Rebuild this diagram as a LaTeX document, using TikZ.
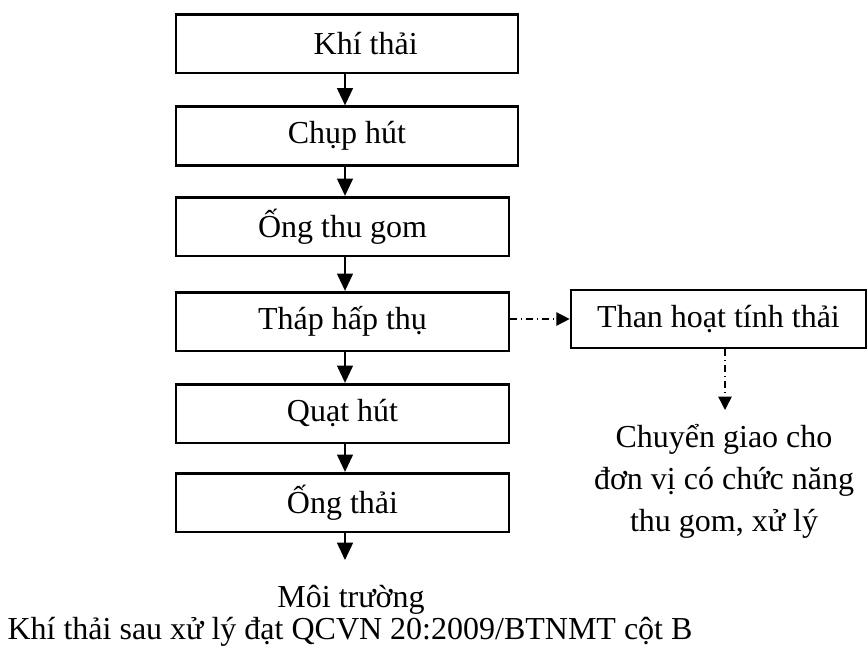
\documentclass[tikz,border=0pt]{standalone}
\usepackage{fontspec}
\setmainfont{Liberation Serif}
\usetikzlibrary{arrows.meta,positioning,calc}

\begin{document}
\begin{tikzpicture}[x=0.75pt,y=-0.75pt,>={Triangle[width=12pt,length=13pt]},
  box/.style={draw,line width=2pt,minimum height=44pt,inner sep=0pt,
              font=\fontsize{24}{29}\selectfont},
  wide/.style={box,minimum width=256.5pt},
  narrow/.style={box,minimum width=249.75pt},
  txt/.style={align=center,font=\fontsize{24}{31.5}\selectfont,inner sep=0pt},
  flow/.style={->,line width=1.1pt},
  aux/.style={-{Triangle[width=10pt,length=10pt]},line width=1.1pt,
              dash pattern=on 5pt off 3pt on 1pt off 3pt}]
\useasboundingbox (0,0) rectangle (867,651);
% main line
\node[wide] (khi) at (347,43.5) {\hspace*{28pt}Khí thải};
\node[wide] (chup) at (347,136) {Chụp hút};
\node[narrow] (ong) at (342.5,226.5) {Ống thu gom};
\node[narrow] (thap) at (342.5,321.5) {Tháp hấp thụ};
\node[narrow] (quat) at (342.5,413.5) {Quạt hút};
\node[narrow] (thai) at (342.5,502.5) {Ống thải};
\coordinate (ra) at (345,560);
\node[txt] (moi) at (351,600) {Môi trường};
\node[txt] (qcvn) at (350,632) {Khí thải sau xử lý đạt QCVN 20:2009/BTNMT cột B};
% side branch
\node[box,minimum width=221.25pt,minimum height=43.5pt] (than) at (718.5,319) {Than hoạt tính thải};
\coordinate (xuong) at (725,410);
\node[txt] (giao) at (724,481) {Chuyển giao cho\\đơn vị có chức năng\\thu gom, xử lý};
\draw[flow] (khi.south -| ra)--(chup.north -| ra);
\draw[flow] (chup.south -| ra)--(ong.north -| ra);
\draw[flow] (ong.south -| ra)--(thap.north -| ra);
\draw[flow] (thap.south -| ra)--(quat.north -| ra);
\draw[flow] (quat.south -| ra)--(thai.north -| ra);
\draw[flow] (thai.south -| ra)--(ra);
\draw[aux] (thap.east |- than.west)--(than.west);
\draw[aux] (than.south -| xuong)--(xuong);
\end{tikzpicture}
\end{document}
